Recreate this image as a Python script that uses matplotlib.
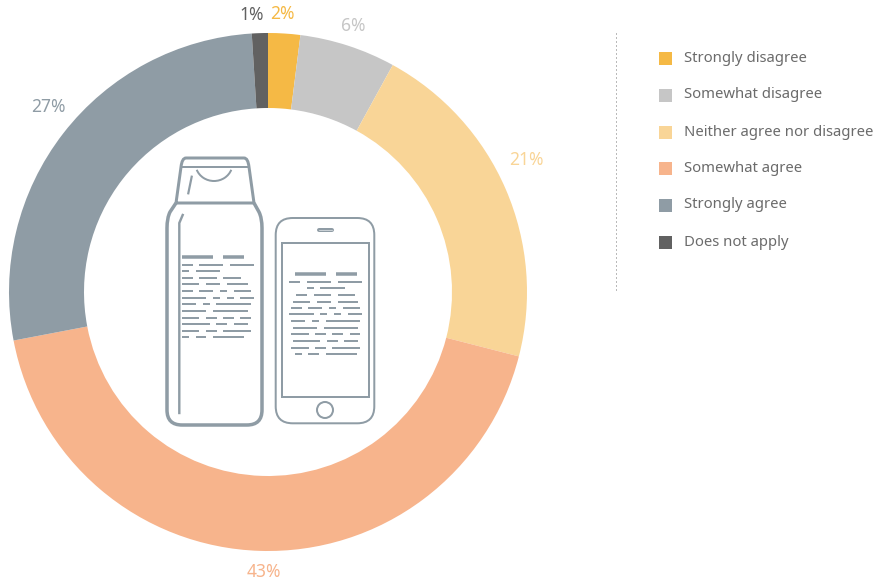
# donut chart with bottle and phone icons in the hole

import matplotlib
matplotlib.use("Agg")
import matplotlib.pyplot as plt
from matplotlib.patches import Circle, FancyBboxPatch, Rectangle, Arc
from matplotlib.path import Path
from matplotlib.patches import PathPatch

plt.rcParams['font.family'] = ['Noto Sans', 'DejaVu Sans']

categories = ["Strongly disagree", "Somewhat disagree", "Neither agree nor disagree",
              "Somewhat agree", "Strongly agree", "Does not apply"]
values = [2, 6, 21, 43, 27, 1]
value_labels = ["2%", "6%", "21%", "43%", "27%", "1%"]
colors = ["#f5b945", "#c6c6c6", "#f9d597", "#f7b48c", "#8f9ca5", "#616161"]

# where the percent labels sit, in pixels
label_x = [282, 353, 526, 264, 48, 252]
label_y = [14, 26, 160, 572, 107, 15]
legend_y = [58, 95, 132, 168, 205, 242]

# fine print on the icons, read from the 3x zoom
bottle_rows = {
    374: [(96, 128), (148, 220), (240, 313)],
    393: [(96, 117), (137, 210)],
    413: [(96, 128), (148, 200), (220, 272)],
    433: [(96, 148), (168, 210), (230, 293)],
    453: [(96, 128), (148, 190), (210, 231), (251, 303)],
    473: [(96, 169), (189, 210), (230, 251), (271, 313)],
    492: [(96, 138), (158, 179), (199, 302)],
    512: [(96, 169), (189, 293)],
    533: [(96, 148), (168, 200), (220, 251), (271, 303)],
    552: [(96, 179), (199, 231), (251, 293)],
    572: [(96, 148), (168, 200), (220, 303)],
    591: [(96, 117), (137, 169), (189, 282)],
}
bottle_head = {352: [(96, 188), (220, 282)]}
phone_rows = {
    425: [(418, 450), (470, 543), (563, 636)],
    443: [(470, 491), (511, 584)],
    464: [(439, 470), (491, 543), (563, 615)],
    485: [(429, 481), (501, 543), (563, 625)],
    503: [(423, 455), (475, 517), (537, 558), (578, 630)],
    523: [(418, 491), (511, 532), (553, 574), (594, 636)],
    543: [(423, 465), (485, 506), (527, 630)],
    563: [(429, 501), (521, 625)],
    583: [(423, 476), (496, 527), (547, 578), (599, 630)],
    603: [(429, 511), (532, 563), (583, 625)],
    623: [(423, 476), (496, 527), (547, 630)],
    641: [(434, 455), (475, 507), (527, 620)],
}
phone_head = {403: [(434, 527), (558, 620)]}

icon = "#8f9ca5"
px = 0.72  # one pixel in points at dpi 100


def draw_rows(ax, rows, thick):
    for zy, segs in rows.items():
        for x0, x1 in segs:
            ax.plot([150 + x0 / 3, 150 + x1 / 3], [140 + zy / 3, 140 + zy / 3],
                    color=icon, lw=thick * px, solid_capstyle='butt')


fig = plt.figure(figsize=(8.82, 5.82), dpi=100)
ax = fig.add_axes([0, 0, 1, 1])

# y axis runs downward, so the angle grows clockwise on screen
ax.pie(values, colors=colors, center=(268, 292), radius=259, startangle=-90,
       counterclock=True, wedgeprops={'width': 75, 'linewidth': 0})
ax.set_xlim(0, 882)
ax.set_ylim(582, 0)
ax.set_aspect('auto')
ax.axis('off')

for x, y, t, c in zip(label_x, label_y, value_labels, colors):
    ax.text(x, y, t, color=c, fontsize=12.5, ha='center', va='center')

# legend
ax.plot([615.5, 615.5], [33, 292], color="#777777", lw=1 * px, ls=(0, (1, 3)))
for y, name, c in zip(legend_y, categories, colors):
    ax.add_patch(Rectangle((659, y - 6.5), 13, 13, color=c, lw=0))
    ax.text(684, y, name, color="#6b6b6b", fontsize=10.7, ha='left', va='center')

# bottle body and cap
body = Path([(176, 203), (170, 212), (167, 218), (167, 228), (167, 410), (167, 425), (182, 425),
             (247, 425), (262, 425), (262, 410), (262, 228), (262, 218), (259, 212), (254, 203)],
            [Path.MOVETO, Path.LINETO, Path.CURVE3, Path.CURVE3, Path.LINETO, Path.CURVE3, Path.CURVE3,
             Path.LINETO, Path.CURVE3, Path.CURVE3, Path.LINETO, Path.CURVE3, Path.CURVE3, Path.LINETO])
ax.add_patch(PathPatch(body, fill=False, ec=icon, lw=3.5 * px))
cap = Path([(176, 203), (181, 167), (182, 158), (186, 158), (244, 158), (248, 158), (249, 167),
            (254, 203), (176, 203)],
           [Path.MOVETO, Path.LINETO, Path.CURVE3, Path.CURVE3, Path.LINETO, Path.CURVE3, Path.CURVE3,
            Path.LINETO, Path.LINETO])
ax.add_patch(PathPatch(cap, fill=False, ec=icon, lw=3 * px))
ax.plot([181, 249], [167, 167], color=icon, lw=2 * px)
ax.add_patch(Arc((214, 163.5), 37, 35, theta1=20, theta2=160, ec=icon, lw=2 * px))
ax.plot([191.7, 188.3], [176.7, 193.3], color=icon, lw=2.2 * px)
ax.plot([182.7, 179.3, 179.3], [215, 223, 413], color=icon, lw=2.4 * px)
draw_rows(ax, bottle_head, 3.5)
draw_rows(ax, bottle_rows, 2)

# phone
ax.add_patch(FancyBboxPatch((292.7, 235), 64.6, 171.3, boxstyle="round,pad=17,rounding_size=17",
                            fill=False, ec=icon, lw=2 * px))
ax.add_patch(Rectangle((281.7, 243), 87, 154, fill=False, ec=icon, lw=2 * px))
ax.plot([318.5, 332], [230.3, 230.3], color=icon, lw=4 * px, solid_capstyle='round')
ax.plot([318.5, 332], [230.3, 230.3], color="#c9d0d5", lw=1 * px, solid_capstyle='round')
ax.add_patch(Circle((325, 410), 8, fill=False, ec=icon, lw=2 * px))
draw_rows(ax, phone_head, 3.5)
draw_rows(ax, phone_rows, 2)

fig.savefig("out.png", dpi=100)
